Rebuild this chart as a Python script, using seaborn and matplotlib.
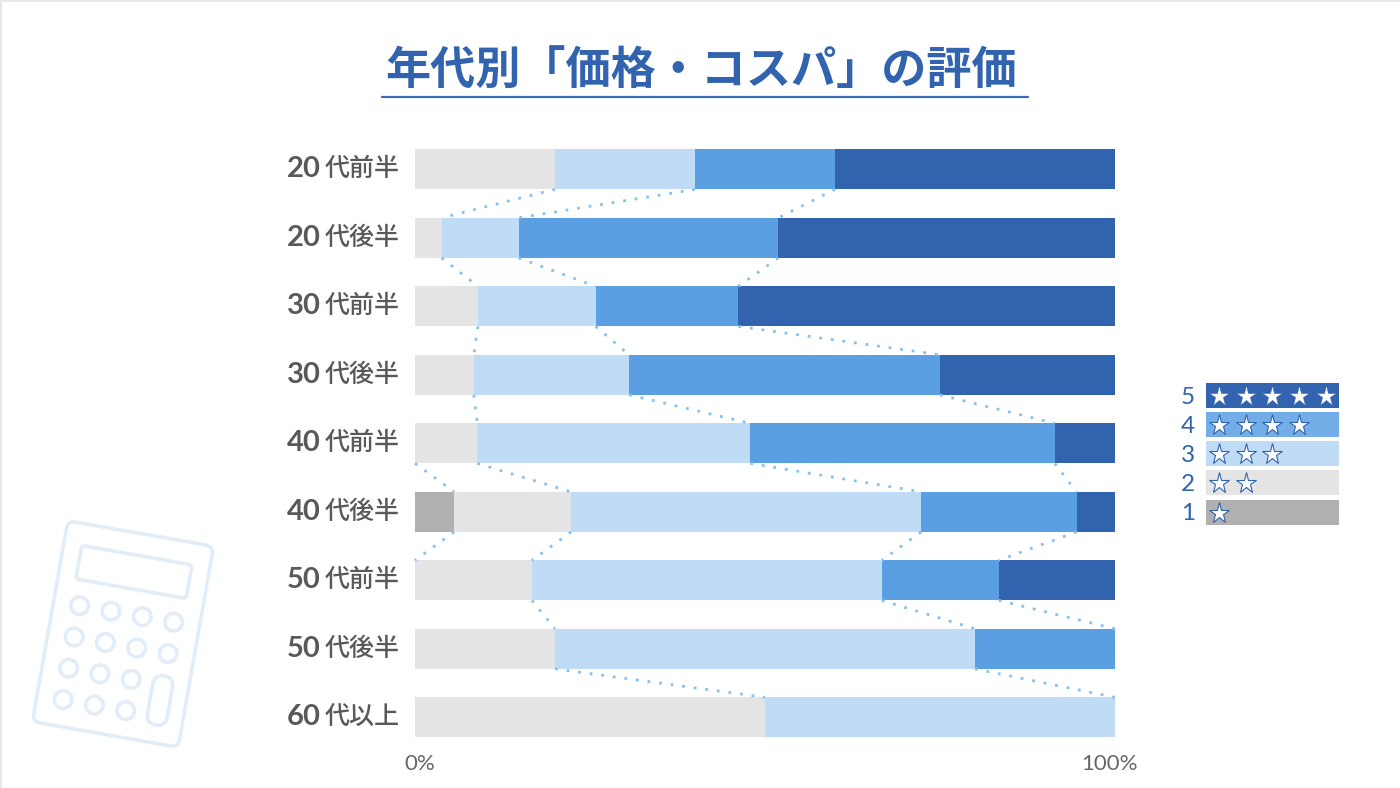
import pandas as pd
import matplotlib.pyplot as plt
import seaborn as sns
from matplotlib.patches import Circle, FancyBboxPatch, Rectangle
from matplotlib.transforms import Affine2D, ScaledTranslation

sns.set_style('white')
plt.rcParams['font.family'] = ['Noto Sans CJK JP', 'DejaVu Sans']

# Values (% of answers per star rating)
decades = ['20', '20', '30', '30', '40', '40', '50', '50', '60']
suffixes = ['代前半', '代後半', '代前半', '代後半', '代前半', '代後半', '代前半', '代後半', '代以上']
star1 = [0, 0, 0, 0, 0, 5.6, 0, 0, 0]
star2 = [20, 3.8, 9, 8.4, 8.9, 16.7, 16.7, 20, 50]
star3 = [20, 11, 16.8, 22.2, 39, 50, 50, 60, 50]
star4 = [20, 37.1, 20.4, 44.4, 43.5, 22.2, 16.7, 20, 0]
star5 = [40, 48.1, 53.8, 25, 8.7, 5.5, 16.6, 0, 0]

title = '年代別「価格・コスパ」の評価'
ratings = [5, 4, 3, 2, 1]
bar_colors = {1: '#b0b0b0', 2: '#e4e4e4', 3: '#c0dbf6', 4: '#5a9fe2', 5: '#3163ae'}
legend_colors = {1: '#b0b0b0', 2: '#e4e4e4', 3: '#c0dbf6', 4: '#72ade8', 5: '#3163ae'}
BLUE = '#3163ae'
DOT = '#85c1ee'
ICON = '#e1eefa'
BAR_W = 0.585

# Cumulative table, bars get painted longest first so they look stacked
ages = [d + s for d, s in zip(decades, suffixes)]
df = pd.DataFrame({'age': ages, 1: star1, 2: star2, 3: star3, 4: star4, 5: star5}).set_index('age')
cum = df.cumsum(axis=1)
long_df = df.reset_index().melt(id_vars='age', var_name='rating', value_name='share')
long_df['cum'] = [cum.loc[a, r] for a, r in zip(long_df['age'], long_df['rating'])]
long_df = long_df[long_df['share'] > 0]

fig = plt.figure(figsize=(14, 7.88), dpi=100)
ax = fig.add_axes([415 / 1400, 1 - 751.6 / 788, 700 / 1400, 616.5 / 788])

sns.barplot(data=long_df, y='age', x='cum', hue='rating', hue_order=ratings, order=ages,
            palette=bar_colors, dodge=False, width=BAR_W, saturation=1, legend=False,
            linewidth=0, errorbar=None, ax=ax)

# Dotted connectors between neighbouring bars
for i in range(len(ages) - 1):
    for r in [1, 2, 3, 4]:
        a, b = cum.iloc[i][r], cum.iloc[i + 1][r]
        if a == b and a in (0, 100):
            continue
        ax.plot([a, b], [i + BAR_W / 2, i + 1 - BAR_W / 2], color=DOT, lw=2,
                ls=(0, (1, 3.2)), clip_on=False, zorder=1)

ax.set_xlim(0, 100)
ax.set_ylim(8.5, -0.5)
ax.set_xlabel('')
ax.set_ylabel('')
sns.despine(ax=ax, left=True, bottom=True)
ax.set_yticks([])
ax.set_xticks([0, 100])
ax.set_xticklabels(['0%', '100%'], fontsize=16, color='#666666', family=['Lato', 'DejaVu Sans'])
ax.tick_params(axis='x', length=0, pad=2)
shifts = [4.5, -5.5]
for lab, s in zip(ax.get_xticklabels(), shifts):
    lab.set_transform(lab.get_transform() + ScaledTranslation(s / 100, 0, fig.dpi_scale_trans))

# Row labels: bold digits + kanji
for i, (d, s) in enumerate(zip(decades, suffixes)):
    ax.annotate(d, xy=(0, i), xycoords=ax.get_yaxis_transform(), xytext=(-94, 0),
                textcoords='offset pixels', ha='right', va='center', fontsize=21,
                fontweight='bold', color='#595959', family=['Lato', 'DejaVu Sans'])
    ax.annotate(s, xy=(0, i), xycoords=ax.get_yaxis_transform(), xytext=(-15, 0),
                textcoords='offset pixels', ha='right', va='center', fontsize=18,
                fontweight='medium', color='#595959')

# Overlay in pixel coordinates for the title, legend and icon
over = fig.add_axes([0, 0, 1, 1], zorder=-1)
over.set_xlim(0, 1400)
over.set_ylim(788, 0)
over.axis('off')
ax.patch.set_alpha(0)

over.plot([1, 1, 1400], [788, 1, 1], color='#e8e8e8', lw=1.5)
over.text(701, 72, title, ha='center', va='center', fontsize=32.5, fontweight='bold', color=BLUE)
over.plot([382, 1028], [97, 97], color='#3a6db8', lw=1.6)

# Legend with stars
row_tops = [383, 412, 441, 470, 500]
star_x = [1219, 1246, 1272, 1299, 1326]
for r, top in zip(ratings, row_tops):
    over.add_patch(Rectangle((1206, top), 133, 25, color=legend_colors[r], lw=0))
    over.text(1188, top + 14, str(r), ha='center', va='center', fontsize=17.5, color=BLUE,
              family=['Lato', 'DejaVu Sans'])
    over.plot(star_x[:r], [top + 12.5] * r, ls='', marker='*', ms=15.5, mfc='white',
              mec=BLUE, mew=0.8 if r < 5 else 0.4)

# Calculator icon (tilted 10 degrees)
tilt = Affine2D().rotate_deg(10).translate(123, 634) + over.transData
icon_kw = dict(fc='none', ec=ICON, lw=2.6, transform=tilt)
over.add_patch(FancyBboxPatch((-66, -94), 132, 188, boxstyle='round,pad=8,rounding_size=8', **icon_kw))
over.add_patch(FancyBboxPatch((-54, -78), 108, 30, boxstyle='round,pad=2,rounding_size=3', **icon_kw))
for row in range(4):
    for col in range(4):
        if col == 3 and row >= 2:
            continue
        over.add_patch(Circle((-47.6 + 31.8 * col, -20.4 + 31.8 * row), 8.8, **icon_kw))
over.add_patch(FancyBboxPatch((40, 36), 16, 46, boxstyle='round,pad=2,rounding_size=10', **icon_kw))

fig.savefig('out.png', dpi=100)
plt.close(fig)
